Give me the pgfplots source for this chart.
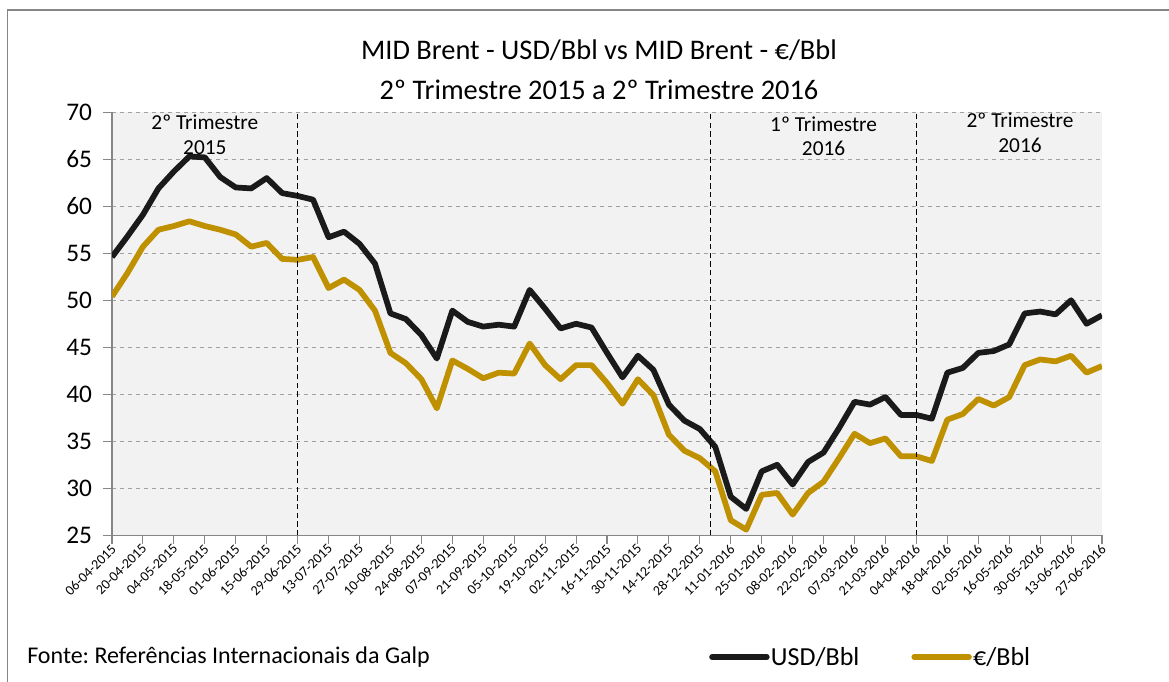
\documentclass[border=0pt]{standalone}
\usepackage{pgfplots}
\pgfplotsset{compat=1.18}
\usepackage{fontspec}
\setmainfont{Carlito}
\frenchspacing
\definecolor{usd}{RGB}{26,26,26}
\definecolor{eur}{RGB}{191,144,0}
\definecolor{bgc}{RGB}{242,242,242}
\definecolor{gridc}{RGB}{160,160,160}
\definecolor{axc}{RGB}{134,134,134}
\pgfplotstableread{
i usd eur
0 54.6 50.4
1 56.8 52.9
2 59.1 55.7
3 61.9 57.5
4 63.7 57.9
5 65.3 58.4
6 65.2 57.9
7 63.1 57.5
8 62.0 57.0
9 61.9 55.7
10 63.0 56.1
11 61.4 54.4
12 61.1 54.3
13 60.7 54.6
14 56.7 51.3
15 57.3 52.2
16 56.0 51.1
17 53.9 48.9
18 48.6 44.4
19 48.0 43.3
20 46.3 41.6
21 43.8 38.5
22 48.9 43.6
23 47.7 42.7
24 47.2 41.7
25 47.4 42.3
26 47.2 42.2
27 51.1 45.4
28 49.1 43.1
29 47.0 41.6
30 47.5 43.1
31 47.1 43.1
32 44.4 41.2
33 41.8 39.0
34 44.1 41.6
35 42.6 39.9
36 38.9 35.7
37 37.2 34.0
38 36.3 33.2
39 34.4 31.8
40 29.1 26.6
41 27.8 25.6
42 31.8 29.3
43 32.5 29.5
44 30.4 27.2
45 32.8 29.5
46 33.8 30.7
47 36.4 33.2
48 39.2 35.8
49 38.9 34.8
50 39.7 35.3
51 37.8 33.4
52 37.8 33.4
53 37.4 32.9
54 42.3 37.3
55 42.8 37.9
56 44.4 39.5
57 44.6 38.8
58 45.3 39.7
59 48.6 43.1
60 48.8 43.7
61 48.5 43.5
62 50.0 44.1
63 47.5 42.3
64 48.4 43.0
}\brent
\begin{document}
\begin{tikzpicture}
\useasboundingbox (0pt,0pt) rectangle (876.75pt,510.75pt);
\draw[axc, line width=0.9pt] (5.6pt,-10pt) -- (5.6pt,503.25pt) -- (890pt,503.25pt);
\node[font=\fontsize{21.3}{30}\selectfont, align=center] at (449.25pt,458.25pt) {MID Brent - USD/Bbl vs MID Brent - €/Bbl\\2º Trimestre 2015 a 2º Trimestre 2016};
\node[font=\fontsize{18}{22}\selectfont, anchor=west, inner sep=0pt] at (20.25pt,18pt) {Fonte: Referências Internacionais da Galp};
\begin{axis}[
  at={(84pt,109.3pt)}, anchor=south west,
  scale only axis, width=742.5pt, height=317.25pt,
  xmin=0, xmax=64, ymin=25, ymax=70,
  axis background/.style={fill=bgc},
  axis x line*=bottom, axis y line*=left,
  axis line style={axc, line width=0.8pt, -},
  tick align=outside, tick style={axc, line width=0.8pt},
  major tick length=6.5pt,
  xtick={0,2,...,64},
  xticklabels={06-04-2015,20-04-2015,04-05-2015,18-05-2015,01-06-2015,15-06-2015,29-06-2015,13-07-2015,27-07-2015,10-08-2015,24-08-2015,07-09-2015,21-09-2015,05-10-2015,19-10-2015,02-11-2015,16-11-2015,30-11-2015,14-12-2015,28-12-2015,11-01-2016,25-01-2016,08-02-2016,22-02-2016,07-03-2016,21-03-2016,04-04-2016,18-04-2016,02-05-2016,16-05-2016,30-05-2016,13-06-2016,27-06-2016},
  xticklabel style={font=\fontsize{10.5}{12}\selectfont, rotate=45, anchor=north east, inner sep=0.5pt, yshift=2pt},
  ytick={25,30,...,70},
  yticklabel style={font=\fontsize{19}{22}\selectfont, xshift=-5pt},
  /pgf/number format/assume math mode=true,
  ymajorgrids, grid style={gridc, dashed, line width=0.6pt},
  legend columns=2,
  legend style={draw=none, fill=none, at={(0.603,-0.288)}, anchor=west, inner sep=0pt,
    font=\fontsize{19.5}{22}\selectfont,
    nodes={inner sep=1pt},
    /tikz/column 2/.style={column sep=38pt}},
  legend image code/.code={\draw[#1, line cap=round] (0pt,0pt) -- (41pt,0pt);},
]
\addplot[usd, line width=4.3pt, line join=round] table[x=i, y=usd] {\brent};
\addlegendentry{USD/Bbl}
\addplot[eur, line width=4.3pt, line join=round] table[x=i, y=eur] {\brent};
\addlegendentry{€/Bbl}
\draw[black, dash pattern=on 4pt off 2.5pt, line width=0.9pt] (axis cs:12,25) -- (axis cs:12,70);
\draw[black, dash pattern=on 4pt off 2.5pt, line width=0.9pt] (axis cs:38.7,25) -- (axis cs:38.7,70);
\draw[black, dash pattern=on 4pt off 2.5pt, line width=0.9pt] (axis cs:52,25) -- (axis cs:52,70);
\node[font=\fontsize{16}{18.5}\selectfont, align=center] at (axis cs:6,67.6) {2º Trimestre\\2015};
\node[font=\fontsize{16}{18.5}\selectfont, align=center] at (axis cs:46,67.45) {1º Trimestre\\2016};
\node[font=\fontsize{16}{18.5}\selectfont, align=center] at (axis cs:58.7,67.8) {2º Trimestre\\2016};
\end{axis}
\end{tikzpicture}
\end{document}
